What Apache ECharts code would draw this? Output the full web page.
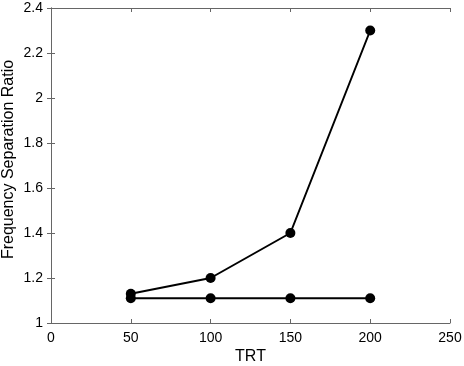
<!DOCTYPE html>
<html>
<head>
<meta charset="utf-8">
<script src="https://cdn.jsdelivr.net/npm/echarts@6/dist/echarts.min.js"></script>
<style>
  html, body { margin: 0; padding: 0; background: #fff; }
  #chart { width: 464px; height: 366px; }
</style>
</head>
<body>
<div id="chart"></div>
<script>
var trt = [50, 100, 150, 200];
var ratioUpper = [1.13, 1.2, 1.4, 2.3];
var ratioLower = [1.11, 1.11, 1.11, 1.11];

function pairs(xs, ys) {
  return xs.map(function (x, i) { return [x, ys[i]]; });
}

var chart = echarts.init(document.getElementById('chart'), null, { renderer: 'canvas' });

var axisCommon = {
  axisLine: { show: true, lineStyle: { color: '#666', width: 1 } },
  axisTick: { show: true, inside: true, length: 4, lineStyle: { color: '#666' } },
  splitLine: { show: false },
  nameMoveOverlap: false,
  axisLabel: { color: '#000', fontSize: 14, fontFamily: 'Liberation Sans' },
  nameTextStyle: { color: '#000', fontSize: 16, fontFamily: 'Liberation Sans' }
};

// mirrored axes give the ticks on the top and right edges of the box
var mirror = {
  axisLine: { show: true, lineStyle: { color: '#666', width: 1 } },
  axisTick: { show: true, inside: true, length: 4, lineStyle: { color: '#666' } },
  axisLabel: { show: false },
  splitLine: { show: false }
};

var option = {
  animation: false,
  grid: {
    left: 51, right: 14, top: 8, bottom: 43,
    containLabel: false,
    outerBoundsMode: 'none'
  },
  xAxis: [
    Object.assign({}, axisCommon, {
      type: 'value',
      min: 0, max: 250, interval: 50,
      name: 'TRT',
      nameLocation: 'middle',
      nameGap: 26,
      axisLabel: Object.assign({}, axisCommon.axisLabel, { margin: 8 })
    }),
    Object.assign({}, mirror, {
      type: 'value', position: 'top',
      min: 0, max: 250, interval: 50
    })
  ],
  yAxis: [
    Object.assign({}, axisCommon, {
      type: 'value',
      min: 1, max: 2.4, interval: 0.2,
      name: 'Frequency Separation Ratio',
      nameLocation: 'middle',
      nameGap: 34,
      nameTextStyle: Object.assign({}, axisCommon.nameTextStyle, { padding: [0, 0, 0, 12] }),
      axisLabel: Object.assign({}, axisCommon.axisLabel, { margin: 8 })
    }),
    Object.assign({}, mirror, {
      type: 'value', position: 'right',
      min: 1, max: 2.4, interval: 0.2
    })
  ],
  series: [
    {
      type: 'line',
      data: pairs(trt, ratioUpper),
      symbol: 'circle', symbolSize: 10,
      lineStyle: { color: '#000', width: 2 },
      itemStyle: { color: '#000' }
    },
    {
      type: 'line',
      data: pairs(trt, ratioLower),
      symbol: 'circle', symbolSize: 10,
      lineStyle: { color: '#000', width: 2 },
      itemStyle: { color: '#000' }
    }
  ]
};

chart.setOption(option);
</script>
</body>
</html>
